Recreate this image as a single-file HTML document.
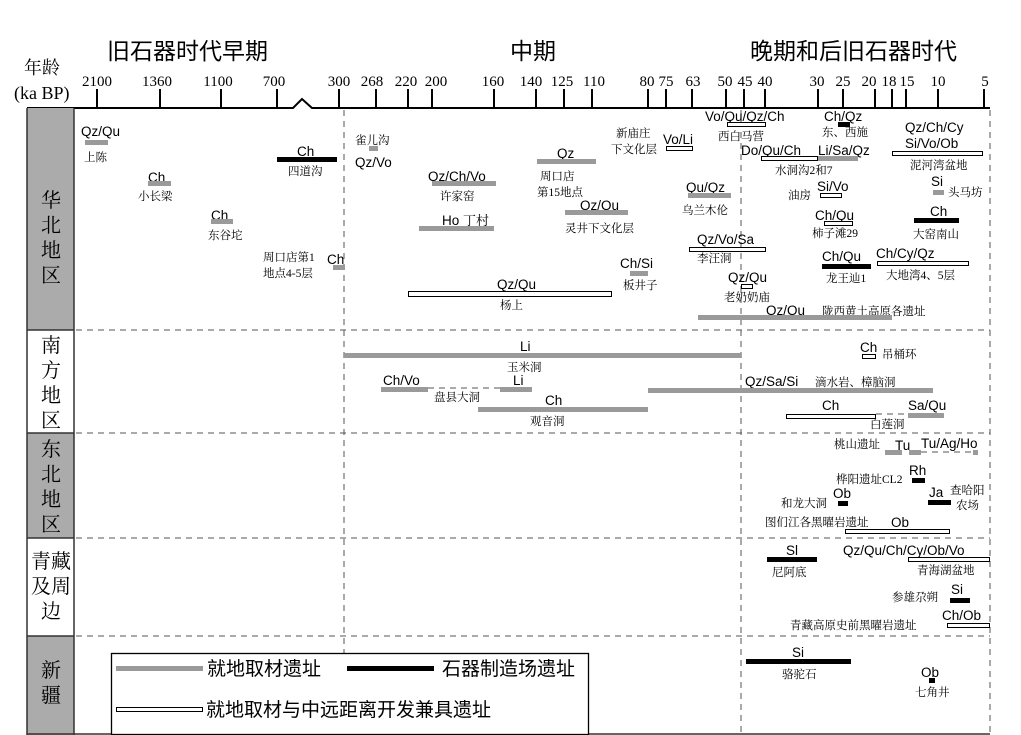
<!DOCTYPE html>
<html><head><meta charset="utf-8"><style>
html,body{margin:0;padding:0;background:#fff;}
svg{display:block;}
.t{font-family:"Liberation Serif","Noto Serif CJK SC",serif;font-size:15px;fill:#000;}
.h{font-family:"Liberation Sans","Noto Sans CJK SC",sans-serif;font-size:23px;fill:#000;}
.l{font-family:"Liberation Sans",sans-serif;font-size:13.5px;fill:#000;}
.c{font-family:"Liberation Serif","Noto Serif CJK SC",serif;font-size:11.5px;fill:#000;}
.r{font-family:"Liberation Serif","Noto Serif CJK SC",serif;font-size:20px;fill:#000;}
.g{fill:#9a9a9a;}
.k{fill:#000;}
.w{fill:#fff;stroke:#000;stroke-width:1;}
.d{stroke:#555;stroke-width:1;stroke-dasharray:6,5;fill:none;}
.lg{font-family:"Liberation Sans","Noto Sans CJK SC",sans-serif;font-size:19px;fill:#000;}
</style></head><body>
<svg width="1021" height="735" viewBox="0 0 1021 735" xmlns="http://www.w3.org/2000/svg">
<!-- titles -->
<text class="h" x="107" y="59">旧石器时代早期</text>
<text class="h" x="510" y="59">中期</text>
<text class="h" x="750" y="59">晚期和后旧石器时代</text>
<text class="t" x="24" y="74" style="font-size:18px">年龄</text>
<text class="t" x="14" y="99" style="font-size:18px">(ka BP)</text>
<!-- axis -->
<polyline points="27,108 293,108 302,99 312,108 990,108" fill="none" stroke="#000" stroke-width="2"/>
<g stroke="#000" stroke-width="2">
<line x1="97" y1="89" x2="97" y2="108"/><line x1="160" y1="89" x2="160" y2="108"/>
<line x1="221" y1="89" x2="221" y2="108"/><line x1="277" y1="89" x2="277" y2="108"/>
<line x1="339" y1="89" x2="339" y2="108"/><line x1="376" y1="89" x2="376" y2="108"/>
<line x1="408" y1="89" x2="408" y2="108"/><line x1="432" y1="89" x2="432" y2="108"/>
<line x1="494" y1="89" x2="494" y2="108"/><line x1="536" y1="89" x2="536" y2="108"/>
<line x1="564" y1="89" x2="564" y2="108"/><line x1="592" y1="89" x2="592" y2="108"/>
<line x1="648" y1="89" x2="648" y2="108"/><line x1="666" y1="89" x2="666" y2="108"/>
<line x1="692" y1="89" x2="692" y2="108"/><line x1="726" y1="89" x2="726" y2="108"/>
<line x1="744" y1="89" x2="744" y2="108"/><line x1="765" y1="89" x2="765" y2="108"/>
<line x1="818" y1="89" x2="818" y2="108"/><line x1="843" y1="89" x2="843" y2="108"/>
<line x1="875" y1="89" x2="875" y2="108"/><line x1="892" y1="89" x2="892" y2="108"/>
<line x1="906" y1="89" x2="906" y2="108"/><line x1="938" y1="89" x2="938" y2="108"/>
<line x1="984" y1="89" x2="984" y2="108"/>
</g>
<g class="t" text-anchor="middle">
<text x="97" y="86">2100</text><text x="157" y="86">1360</text><text x="218" y="86">1100</text>
<text x="274" y="86">700</text><text x="339" y="86">300</text><text x="372" y="86">268</text>
<text x="406" y="86">220</text><text x="436" y="86">200</text><text x="493" y="86">160</text>
<text x="531" y="86">140</text><text x="562" y="86">125</text><text x="594" y="86">110</text>
<text x="647" y="86">80</text><text x="666" y="86">75</text><text x="693" y="86">63</text>
<text x="725" y="86">50</text><text x="745" y="86">45</text><text x="765" y="86">40</text>
<text x="817" y="86">30</text><text x="843" y="86">25</text><text x="869" y="86">20</text>
<text x="889" y="86">18</text><text x="907" y="86">15</text><text x="938" y="86">10</text>
<text x="985" y="86">5</text>
</g>
<!-- region column -->
<rect x="27" y="108" width="47" height="222" fill="#ababab"/>
<rect x="27" y="433" width="47" height="105" fill="#ababab"/>
<rect x="27" y="636" width="47" height="99" fill="#ababab"/>
<g stroke="#333" stroke-width="1.5">
<line x1="27" y1="108" x2="27" y2="735"/><line x1="74" y1="108" x2="74" y2="735"/>
<line x1="27" y1="734" x2="990" y2="734"/>
<line x1="27" y1="330" x2="74" y2="330"/><line x1="27" y1="433" x2="74" y2="433"/>
<line x1="27" y1="538" x2="74" y2="538"/><line x1="27" y1="636" x2="74" y2="636"/>
</g>
<g class="r" text-anchor="middle">
<text x="51" y="207">华</text><text x="51" y="232">北</text><text x="51" y="257">地</text><text x="51" y="282">区</text>
<text x="51" y="352">南</text><text x="51" y="377">方</text><text x="51" y="402">地</text><text x="51" y="427">区</text>
<text x="51" y="456">东</text><text x="51" y="481">北</text><text x="51" y="506">地</text><text x="51" y="531">区</text>
<text x="51" y="568">青藏</text><text x="51" y="593">及周</text><text x="51" y="618">边</text>
<text x="51" y="677">新</text><text x="51" y="702">疆</text>
</g>
<!-- dashed grid -->
<line class="d" x1="76" y1="330" x2="990" y2="330"/>
<line class="d" x1="76" y1="433" x2="990" y2="433"/>
<line class="d" x1="76" y1="538" x2="990" y2="538"/>
<line class="d" x1="76" y1="636" x2="990" y2="636"/>
<line class="d" x1="344" y1="110" x2="344" y2="653"/>
<line class="d" x1="741" y1="110" x2="741" y2="733"/>
<line class="d" x1="990" y1="110" x2="990" y2="733"/>

<!-- 华北 -->
<text class="l" x="81" y="136">Qz/Qu</text><rect class="g" x="85" y="140" width="23" height="5"/><text class="c" x="84" y="161">上陈</text>
<text class="l" x="148" y="182">Ch</text><rect class="g" x="148" y="181" width="23" height="5"/><text class="c" x="138" y="200">小长梁</text>
<text class="l" x="211" y="220">Ch</text><rect class="g" x="211" y="219" width="22" height="5"/><text class="c" x="208" y="239">东谷坨</text>
<text class="l" x="297" y="156">Ch</text><rect class="k" x="277" y="157" width="60" height="5"/><text class="c" x="288" y="175">四道沟</text>
<text class="c" x="355" y="144">雀儿沟</text><rect class="g" x="369" y="146" width="9" height="5"/><text class="l" x="355" y="167">Qz/Vo</text>
<text class="c" x="263" y="261">周口店第1</text><text class="c" x="263" y="277">地点4-5层</text><text class="l" x="327" y="264">Ch</text><rect class="g" x="333" y="265" width="12" height="5"/>
<text class="l" x="428" y="181">Qz/Ch/Vo</text><rect class="g" x="432" y="181" width="64" height="5"/><text class="c" x="440" y="200">许家窑</text>
<text class="l" x="442" y="225">Ho</text><text class="c" x="463" y="225" style="font-size:13px">丁村</text><rect class="g" x="419" y="226" width="75" height="5"/>
<text class="l" x="497" y="289">Qz/Qu</text><rect class="w" x="408.5" y="291.5" width="203" height="5"/><text class="c" x="500" y="309">杨上</text>
<text class="l" x="557" y="158">Qz</text><rect class="g" x="537" y="159" width="59" height="5"/><text class="c" x="540" y="180">周口店</text><text class="c" x="537" y="196">第15地点</text>
<text class="l" x="580" y="210">Qz/Qu</text><rect class="g" x="565" y="210" width="63" height="5"/><text class="c" x="565" y="232">灵井下文化层</text>
<text class="c" x="616" y="137">新庙庄</text><text class="c" x="611" y="153">下文化层</text><text class="l" x="663" y="144">Vo/Li</text><rect class="w" x="666.5" y="146.5" width="26" height="4"/>
<text class="l" x="705" y="121">Vo/Qu/Qz/Ch</text><rect class="w" x="727.5" y="122.5" width="38" height="4"/><text class="c" x="718" y="140">西白马营</text>
<text class="l" x="824" y="121">Ch/Qz</text><rect class="k" x="838" y="122" width="12" height="5"/><text class="c" x="822" y="136">东、西施</text>
<text class="l" x="905" y="132">Qz/Ch/Cy</text><text class="l" x="905" y="148">Si/Vo/Ob</text><rect class="w" x="892.5" y="151.5" width="90" height="4"/><text class="c" x="910" y="169">泥河湾盆地</text>
<text class="l" x="741" y="155">Do/Qu/Ch</text><rect class="w" x="761.5" y="156.5" width="56" height="4"/><text class="l" x="818" y="155">Li/Sa/Qz</text><rect class="g" x="818" y="156" width="40" height="5"/><text class="c" x="775" y="174">水洞沟2和7</text>
<text class="l" x="686" y="192">Qu/Qz</text><rect class="g" x="688" y="193" width="43" height="5"/><text class="c" x="682" y="214">乌兰木伦</text>
<text class="c" x="788" y="199">油房</text><text class="l" x="817" y="191">Si/Vo</text><rect class="w" x="820.5" y="193.5" width="21" height="4"/>
<text class="l" x="931" y="186">Si</text><rect class="g" x="933" y="190" width="11" height="5"/><text class="c" x="948" y="196">头马坊</text>
<text class="l" x="815" y="220">Ch/Qu</text><rect class="w" x="824.5" y="221.5" width="28" height="4"/><text class="c" x="812" y="237">柿子滩29</text>
<text class="l" x="930" y="216">Ch</text><rect class="k" x="914" y="218" width="45" height="5"/><text class="c" x="913" y="238">大窑南山</text>
<text class="l" x="697" y="244">Qz/Vo/Sa</text><rect class="w" x="689.5" y="247.5" width="76" height="4"/><text class="c" x="697" y="262">李汪洞</text>
<text class="l" x="620" y="268">Ch/Si</text><rect class="g" x="630" y="271" width="18" height="5"/><text class="c" x="623" y="289">板井子</text>
<text class="l" x="728" y="282">Qz/Qu</text><rect class="w" x="741.5" y="284.5" width="11" height="4"/><text class="c" x="724" y="301">老奶奶庙</text>
<text class="l" x="822" y="261">Ch/Qu</text><rect class="k" x="822" y="264" width="49" height="5"/><text class="c" x="826" y="282">龙王辿1</text>
<text class="l" x="876" y="258">Ch/Cy/Qz</text><rect class="w" x="877.5" y="261.5" width="91" height="4"/><text class="c" x="886" y="279">大地湾4、5层</text>
<text class="l" x="766" y="315">Qz/Qu</text><text class="c" x="822" y="315">陇西黄土高原各遗址</text><rect class="g" x="698" y="315" width="194" height="5"/>

<!-- 南方 -->
<text class="l" x="520" y="351">Li</text><rect class="g" x="344" y="353" width="397" height="5"/><text class="c" x="507" y="371">玉米洞</text>
<text class="l" x="383" y="385">Ch/Vo</text><rect class="g" x="381" y="387" width="47" height="5"/><line class="d" x1="428" y1="388" x2="500" y2="388"/><text class="c" x="434" y="401">盘县大洞</text><text class="l" x="513" y="385">Li</text><rect class="g" x="500" y="387" width="32" height="5"/>
<text class="l" x="745" y="386">Qz/Sa/Si</text><text class="c" x="815" y="386">滴水岩、樟脑洞</text><rect class="g" x="648" y="388" width="285" height="5"/>
<text class="l" x="545" y="405">Ch</text><rect class="g" x="478" y="407" width="170" height="5"/><text class="c" x="530" y="425">观音洞</text>
<text class="l" x="860" y="352">Ch</text><rect class="w" x="862.5" y="354.5" width="13" height="4"/><text class="c" x="882" y="358">吊桶环</text>
<text class="l" x="822" y="410">Ch</text><rect class="w" x="786.5" y="414.5" width="89" height="4"/><line class="d" x1="876" y1="414" x2="908" y2="414"/><text class="l" x="908" y="410">Sa/Qu</text><rect class="g" x="908" y="413" width="36" height="5"/><text class="c" x="870" y="428">白莲洞</text>

<!-- 东北 -->
<text class="c" x="834" y="448">桃山遗址</text><text class="l" x="895" y="450">Tu</text><text class="l" x="921" y="448">Tu/Ag/Ho</text>
<rect class="g" x="885" y="450" width="17" height="5"/><rect class="g" x="909" y="450" width="12" height="5"/><line class="d" x1="921" y1="452" x2="973" y2="452"/><rect class="g" x="973" y="450" width="5" height="5"/>
<text class="c" x="836" y="483">桦阳遗址CL2</text><text class="l" x="909" y="475">Rh</text><rect class="k" x="912" y="478" width="13" height="5"/>
<text class="c" x="781" y="507">和龙大洞</text><text class="l" x="833" y="498">Ob</text><rect class="k" x="838" y="501" width="10" height="5"/>
<text class="l" x="929" y="497">Ja</text><rect class="k" x="928" y="500" width="23" height="5"/><text class="c" x="950" y="494">查哈阳</text><text class="c" x="956" y="509">农场</text>
<text class="c" x="765" y="526">图们江各黑曜岩遗址</text><text class="l" x="891" y="527">Ob</text><rect class="w" x="845.5" y="529.5" width="104" height="4"/>

<!-- 青藏 -->
<text class="l" x="786" y="555">Sl</text><rect class="k" x="767" y="557" width="50" height="5"/><text class="c" x="772" y="576">尼阿底</text>
<text class="l" x="843" y="555">Qz/Qu/Ch/Cy/Ob/Vo</text><rect class="w" x="908.5" y="557.5" width="81" height="4"/><text class="c" x="917" y="574">青海湖盆地</text>
<text class="c" x="892" y="601">参雄尕朔</text><text class="l" x="951" y="594">Si</text><rect class="k" x="950" y="598" width="20" height="5"/>
<text class="c" x="790" y="629">青藏高原史前黑曜岩遗址</text><text class="l" x="942" y="620">Ch/Ob</text><rect class="w" x="947.5" y="623.5" width="42" height="4"/>

<!-- 新疆 -->
<text class="l" x="792" y="657">Si</text><rect class="k" x="746" y="659" width="105" height="5"/><text class="c" x="782" y="678">骆驼石</text>
<text class="l" x="921" y="677">Ob</text><rect class="k" x="929" y="678" width="6" height="5"/><text class="c" x="915" y="696">七角井</text>

<!-- legend -->
<rect x="111.5" y="653.5" width="477" height="81" fill="#fff" stroke="#000" stroke-width="1.3"/>
<rect class="g" x="116" y="666" width="87" height="5"/><text class="lg" x="207" y="675">就地取材遗址</text>
<rect class="k" x="347" y="666" width="87" height="5"/><text class="lg" x="442" y="675">石器制造场遗址</text>
<rect class="w" x="116.5" y="707.5" width="86" height="4"/><text class="lg" x="206" y="716">就地取材与中远距离开发兼具遗址</text>
</svg>
</body></html>
